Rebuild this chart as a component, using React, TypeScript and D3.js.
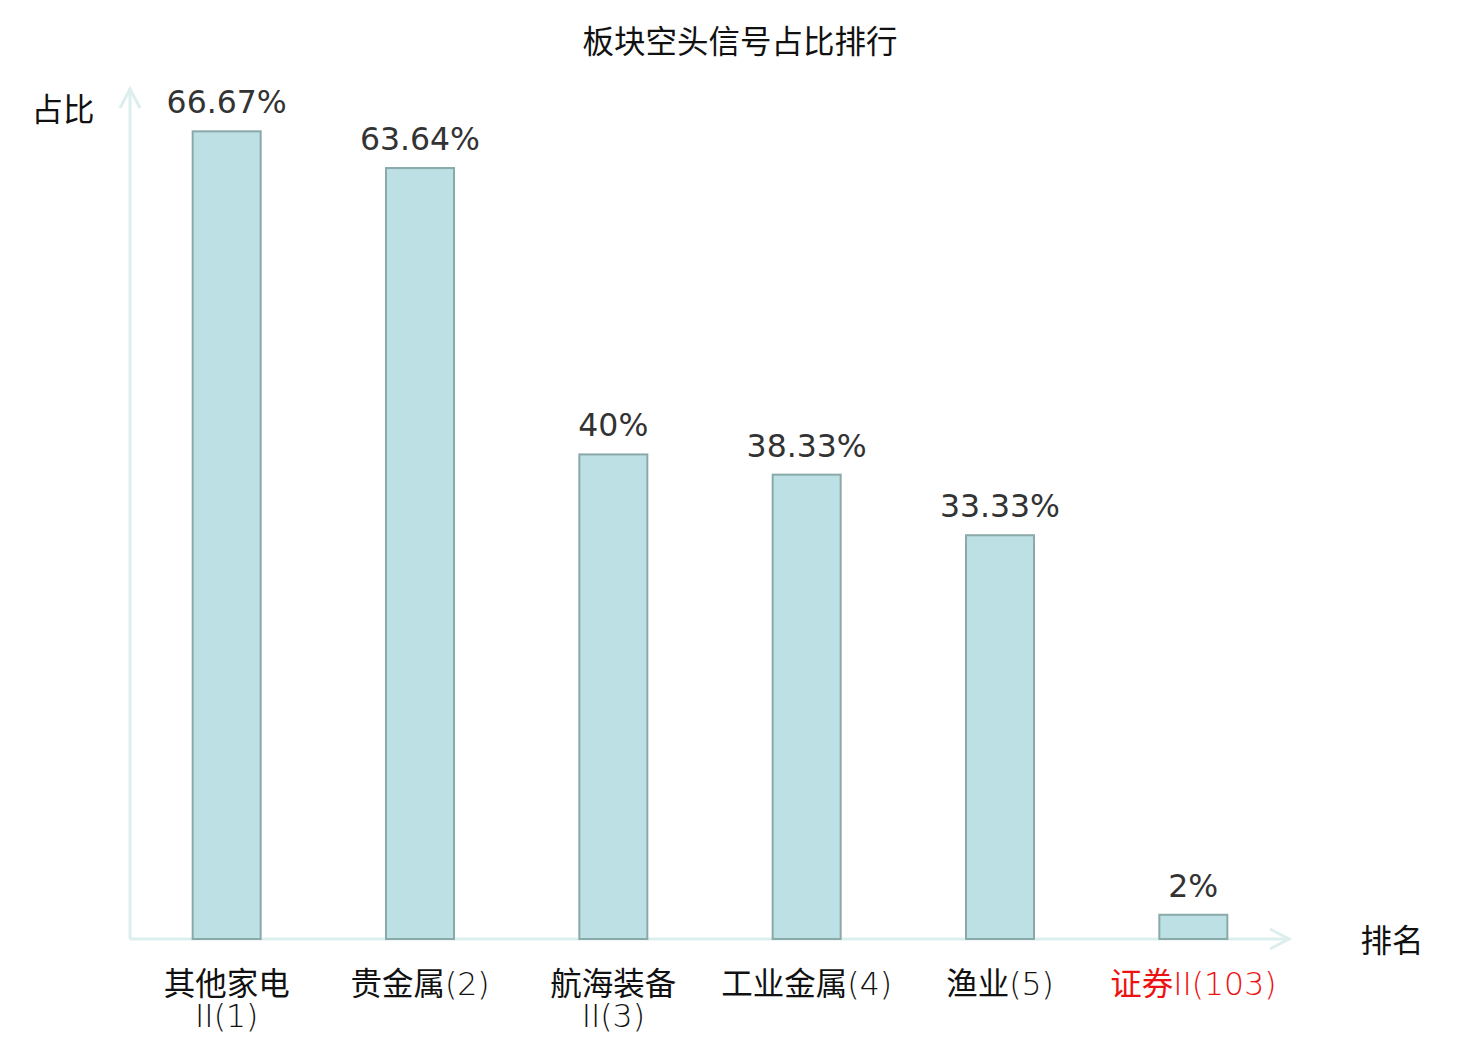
import React from "react";
import * as d3 from "d3";

const categories: string[][] = [
  ["其他家电", "II(1)"],
  ["贵金属(2)"],
  ["航海装备", "II(3)"],
  ["工业金属(4)"],
  ["渔业(5)"],
  ["证券II(103)"],
];
const values: number[] = [66.67, 63.64, 40, 38.33, 33.33, 2];
const valueLabels: string[] = ["66.67%", "63.64%", "40%", "38.33%", "33.33%", "2%"];
const highlight: boolean[] = [false, false, false, false, false, true];
const yMax = 70;

const title = "板块空头信号占比排行";
const yName = "占比";
const xName = "排名";

const cjk = "'Noto Sans CJK SC', 'Noto Sans', sans-serif";
const numFont = "'DejaVu Sans', sans-serif";

function splitRuns(s: string): { t: string; latin: boolean }[] {
  const out: { t: string; latin: boolean }[] = [];
  const re = /[\x00-\x7F]+|[^\x00-\x7F]+/g;
  let m: RegExpExecArray | null;
  while ((m = re.exec(s))) {
    out.push({ t: m[0], latin: /^[\x00-\x7F]/.test(m[0]) });
  }
  return out;
}

export default function App() {
  const W = 1480;
  const H = 1040;
  const left = 130;
  const right = 1290;
  const bottom = 939;
  const top = 91;

  const x = d3
    .scaleBand<number>()
    .domain(d3.range(values.length))
    .range([left, right]);
  const y = d3.scaleLinear().domain([0, yMax]).range([bottom, top]);
  const barW = 68;
  const fs = 31.5;
  const axisColor = "#dcefee";

  return (
    <svg
      width={W}
      height={H}
      style={{ position: "absolute", left: 0, top: 0, background: "#fff" }}
    >
      <text x={740} y={53} textAnchor="middle" fontFamily={cjk} fontSize={fs} fill="#111">
        {title}
      </text>

      {/* axes */}
      <line x1={left} y1={bottom} x2={left} y2={88} stroke={axisColor} strokeWidth={3} />
      <polyline
        points={`${left - 10},108 ${left},89 ${left + 10},108`}
        fill="none"
        stroke={axisColor}
        strokeWidth={3}
      />
      <line x1={left} y1={bottom} x2={right} y2={bottom} stroke={axisColor} strokeWidth={3} />
      <polyline
        points={`${right - 20},${bottom - 10} ${right - 1},${bottom} ${right - 20},${bottom + 10}`}
        fill="none"
        stroke={axisColor}
        strokeWidth={3}
      />

      {values.map((v, i) => {
        const cx = (x(i) as number) + x.bandwidth() / 2;
        return (
          <g key={i}>
            <rect
              x={cx - barW / 2}
              y={y(v)}
              width={barW}
              height={bottom - y(v)}
              fill="#bce0e3"
              stroke="#8aa9a9"
              strokeWidth={2}
            />
            <text
              x={cx}
              y={y(v) - 18}
              textAnchor="middle"
              fontFamily={numFont}
              fontSize={fs}
              fill="#333"
            >
              {valueLabels[i]}
            </text>
            {categories[i].map((line, j) => (
              <text
                key={j}
                x={cx}
                y={995 + j * 32}
                textAnchor="middle"
                fontSize={fs}
                fill={highlight[i] ? "#ee1111" : "#111"}
              >
                {splitRuns(line).map((r, k) => (
                  <tspan
                    key={k}
                    fontFamily={r.latin ? numFont : cjk}
                    fontWeight={r.latin ? 200 : 400}
                  >
                    {r.t}
                  </tspan>
                ))}
              </text>
            ))}
          </g>
        );
      })}

      <text x={63} y={121} textAnchor="middle" fontFamily={cjk} fontSize={fs} fill="#111">
        {yName}
      </text>
      <text x={1392} y={952} textAnchor="middle" fontFamily={cjk} fontSize={fs} fill="#111">
        {xName}
      </text>
    </svg>
  );
}
